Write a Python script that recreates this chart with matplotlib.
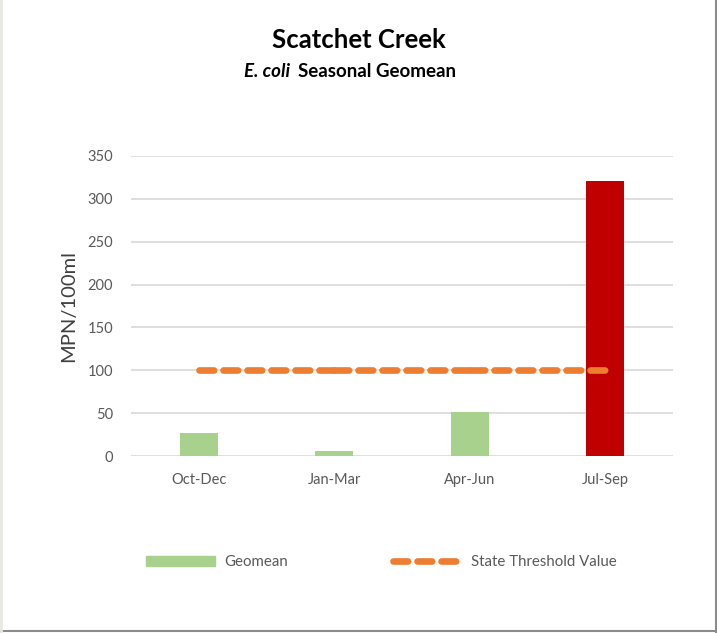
import matplotlib.pyplot as plt
from matplotlib.lines import Line2D

plt.rcParams["font.family"] = ["Lato", "DejaVu Sans"]

seasons = ["Oct-Dec", "Jan-Mar", "Apr-Jun", "Jul-Sep"]
geomean = [27, 6, 51, 321]
threshold = [100, 100, 100, 100]
bar_colors = ["#a9d18e", "#a9d18e", "#a9d18e", "#c00000"]
y_ticks = [0, 50, 100, 150, 200, 250, 300, 350]

fig = plt.figure(figsize=(7.17, 6.33), dpi=100)
ax = fig.add_axes([0.1827, 0.2796, 0.7559, 0.474])

x = list(range(len(seasons)))
ax.bar(x, geomean, width=0.28, color=bar_colors, zorder=2)

# threshold drawn segment by segment so the dash pattern restarts like the original
for i in range(len(x) - 1):
    ax.plot(x[i:i + 2], threshold[i:i + 2], color="#ed7d31", lw=4.8,
            dashes=(2.2, 1.4), solid_capstyle="round", dash_capstyle="round", zorder=3)

ax.set_xlim(-0.5, 3.5)
ax.set_ylim(0, 350)
ax.set_yticks(y_ticks)
ax.set_xticks(x)
ax.set_xticklabels(seasons)
ax.grid(axis="y", color="#d9d9d9", lw=1.2, zorder=0)
ax.tick_params(length=0, labelsize=10.5, labelcolor="#595959", pad=12)
ax.tick_params(axis="y", pad=13)
for s in ax.spines.values():
    s.set_visible(False)
ax.set_ylabel("MPN/100ml", fontsize=14.5, color="#404040", labelpad=7)

fig.text(0.5, 0.937, "Scatchet Creek", ha="center", va="center", fontsize=18.5, fontweight="bold")
fig.text(0.405, 0.887, "E. coli", ha="right", va="center", fontsize=13.5,
         fontweight="bold", style="italic")
fig.text(0.416, 0.887, "Seasonal Geomean", ha="left", va="center", fontsize=13.5,
         fontweight="bold")

handles = [
    plt.Rectangle((0, 0), 1, 1, color="#a9d18e"),
    Line2D([0], [0], color="#ed7d31", lw=4.8, dashes=(2.2, 1.4),
           dash_capstyle="round"),
]
fig.legend(handles, ["Geomean", "State Threshold Value"], loc="center",
           bbox_to_anchor=(0.532, 0.112), ncol=2, frameon=False, fontsize=10.8,
           labelcolor="#595959", handlelength=4.6, handleheight=0.6,
           columnspacing=7.0, handletextpad=0.6)

# chart border
fig.add_artist(Line2D([0.0, 1.0], [0.0025, 0.0025], color="#8c8c8c", lw=1.5))
fig.add_artist(Line2D([0.998, 0.998], [0, 1], color="#8c8c8c", lw=1.5))
fig.add_artist(Line2D([0.002, 0.002], [0, 1], color="#e8e8e3", lw=2))

fig.savefig("out.png", dpi=100)
